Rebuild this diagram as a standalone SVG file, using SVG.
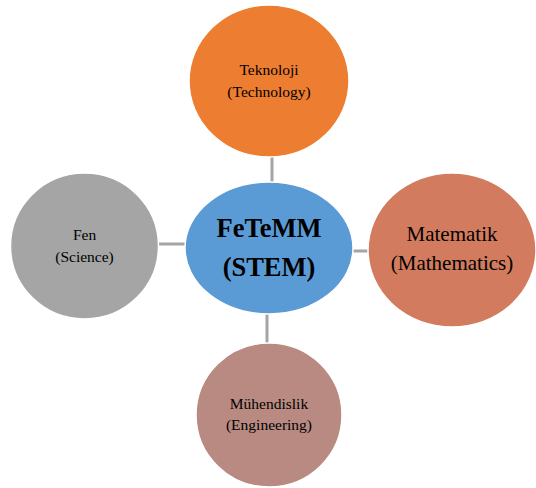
<svg xmlns="http://www.w3.org/2000/svg" width="536" height="488" viewBox="0 0 536 488">
<style>
.node{stroke:#ffffff;stroke-width:1.5}
.t{font-family:"Liberation Serif","Times New Roman",serif;fill:#000;text-anchor:middle}
.s{font-size:15.5px}
.m{font-size:21px}
.b{font-size:26.5px;font-weight:bold}
.c{stroke:#a5a5a5;stroke-width:3;fill:none}
</style>
<rect width="536" height="488" fill="#ffffff"/>
<g id="connectors">
<line class="c" x1="272" y1="156" x2="272" y2="183"/>
<line class="c" x1="158" y1="244" x2="186" y2="244"/>
<line class="c" x1="352" y1="251" x2="369" y2="251"/>
<line class="c" x1="267" y1="313" x2="267" y2="344"/>
</g>
<g id="teknoloji">
<ellipse class="node" cx="269" cy="81" rx="80" ry="76" fill="#ed7d31"/>
<text class="t s" x="269" y="75">Teknoloji</text>
<text class="t s" x="269" y="97">(Technology)</text>
</g>
<g id="fen">
<ellipse class="node" cx="84.5" cy="246" rx="74" ry="73" fill="#a5a5a5"/>
<text class="t s" x="84.5" y="240">Fen</text>
<text class="t s" x="84.5" y="262">(Science)</text>
</g>
<g id="fetemm">
<ellipse class="node" cx="269" cy="248" rx="84" ry="66" fill="#5b9bd5"/>
<text class="t b" x="269" y="237">FeTeMM</text>
<text class="t b" x="269" y="276">(STEM)</text>
</g>
<g id="matematik">
<ellipse class="node" cx="452" cy="250" rx="84" ry="77" fill="#d27b5e"/>
<text class="t m" x="452" y="241">Matematik</text>
<text class="t m" x="452" y="270">(Mathematics)</text>
</g>
<g id="muhendislik">
<ellipse class="node" cx="269" cy="415" rx="73" ry="72" fill="#b98a81"/>
<text class="t s" x="269" y="409">Mühendislik</text>
<text class="t s" x="269" y="430">(Engineering)</text>
</g>
</svg>
